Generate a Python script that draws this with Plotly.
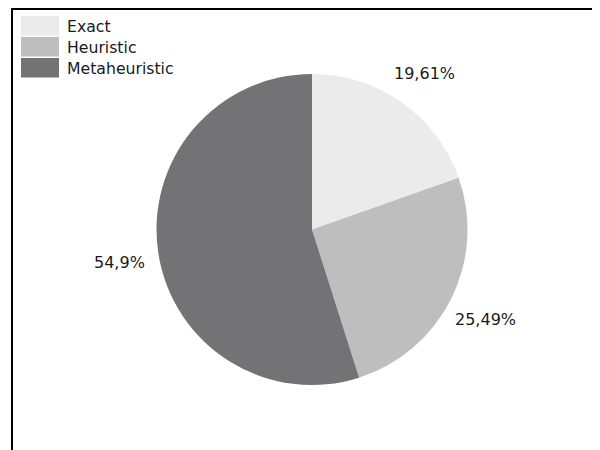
import math
import plotly.graph_objects as go

categories = ["Exact", "Heuristic", "Metaheuristic"]
counts = [10, 13, 28]
colors = ["#ebebeb", "#bebebe", "#737274"]

total = sum(counts)
def fmt(v):
    s = f"{v / total * 100:.2f}".rstrip("0").rstrip(".")
    return s.replace(".", ",") + "%"
text_labels = [fmt(v) for v in counts]

W, H = 600, 450
OFF = 8  # page body margin offset
def px(x):
    return (x - OFF) / W
def py(y):
    return 1 - (y - OFF) / H

cx, cy, r = 312, 229.5, 155.5
label_factor = 1.25

fig = go.Figure(go.Pie(
    labels=categories,
    values=counts,
    textinfo="none",
    sort=False,
    direction="clockwise",
    rotation=0,
    marker=dict(colors=colors, line=dict(width=0)),
    domain=dict(x=[px(cx - r), px(cx + r)], y=[py(cy + r), py(cy - r)]),
    showlegend=False,
    hovertext=text_labels,
    hoverinfo="label+text",
))

annotations = []
cum = 0
for v, t in zip(counts, text_labels):
    mid = (cum + v / 2) / total * 2 * math.pi
    cum += v
    lx = cx + r * label_factor * math.sin(mid)
    ly = cy - r * label_factor * math.cos(mid) + 3
    annotations.append(dict(xref="paper", yref="paper", x=px(lx), y=py(ly),
                            xanchor="center", yanchor="middle", text=t, showarrow=False,
                            font=dict(family="DejaVu Sans", size=16, color="#1a1a1a")))

top_y = 9  # as high as the page allows
shapes = [
    dict(type="line", xref="paper", yref="paper", x0=px(11), x1=1.05, y0=py(top_y), y1=py(top_y),
         line=dict(color="black", width=2)),
    dict(type="line", xref="paper", yref="paper", x0=px(12), x1=px(12), y0=py(top_y - 1), y1=-0.05,
         line=dict(color="black", width=2)),
]
for i, (cat, col) in enumerate(zip(categories, colors)):
    top = 16 + i * 21
    shapes.append(dict(type="rect", xref="paper", yref="paper",
                       x0=px(21), x1=px(59), y0=py(top + 19.5), y1=py(top),
                       fillcolor=col, line=dict(width=0)))
    annotations.append(dict(xref="paper", yref="paper", x=px(65), y=py(top + 10.5),
                            xanchor="left", yanchor="middle", text=cat, showarrow=False,
                            font=dict(family="DejaVu Sans", size=15.7, color="#1a1a1a")))

fig.update_layout(
    width=W, height=H,
    margin=dict(l=0, r=0, t=0, b=0),
    paper_bgcolor="white", plot_bgcolor="white",
    shapes=shapes, annotations=annotations,
)

fig.write_html("out.html")
